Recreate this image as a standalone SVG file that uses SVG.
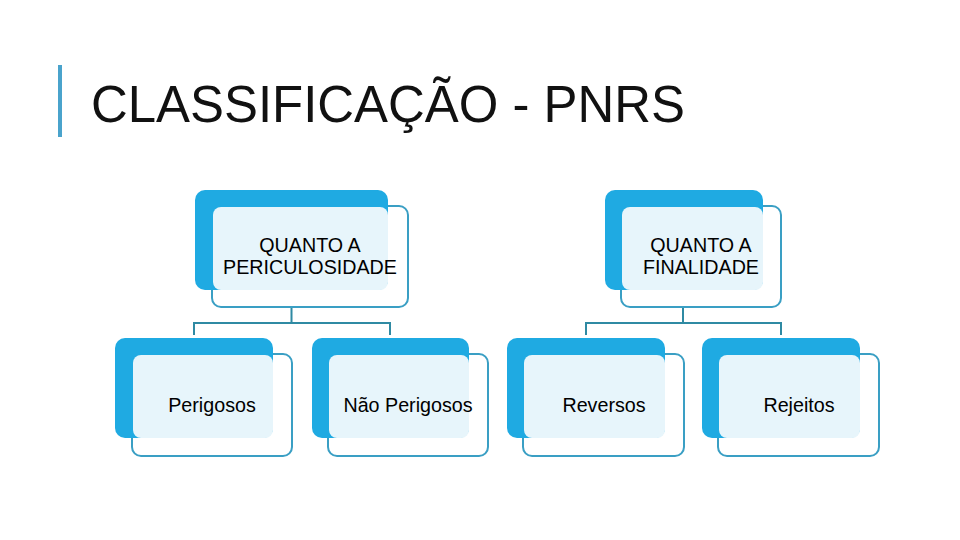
<svg xmlns="http://www.w3.org/2000/svg" width="960" height="540" viewBox="0 0 960 540">
<style>
.back{fill:#1faae2}
.light{fill:#e7f5fb}
.frame{fill:#ffffff;stroke:#3a9fc4;stroke-width:2}
.lbl{font-family:"Liberation Sans",Arial,sans-serif;font-size:19.7px;fill:#000;text-anchor:middle}
.conn{fill:none;stroke:#2f8aa3;stroke-width:2}
</style>
<rect x="0" y="0" width="960" height="540" fill="#ffffff"/>
<rect x="58" y="65" width="4" height="72" fill="#4aa3cc"/>
<text x="91" y="122" font-family="'Liberation Sans',Arial,sans-serif" font-size="51.5" textLength="594" lengthAdjust="spacingAndGlyphs" fill="#111">CLASSIFICAÇÃO - PNRS</text>
<g id="connectors">
<path class="conn" d="M291.5 307 V323 M194 335 V323 H390 V335"/>
<path class="conn" d="M683 307 V323 M586 335 V323 H781 V335"/>
</g>
<g id="n1">
<rect class="frame" x="212" y="206" width="196" height="101" rx="9"/>
<rect class="back" x="195" y="190" width="193" height="100" rx="10"/>
<rect class="light" x="213" y="207" width="175" height="83" rx="8"/>
<text class="lbl" x="310" y="252">QUANTO A</text>
<text class="lbl" x="310" y="274">PERICULOSIDADE</text>
</g>
<g id="n2">
<rect class="frame" x="621" y="206" width="160" height="101" rx="9"/>
<rect class="back" x="605" y="190" width="158" height="100" rx="10"/>
<rect class="light" x="622" y="207" width="141" height="83" rx="8"/>
<text class="lbl" x="701" y="252">QUANTO A</text>
<text class="lbl" x="701" y="274">FINALIDADE</text>
</g>
<g id="n3">
<rect class="frame" x="132" y="354" width="160" height="102" rx="9"/>
<rect class="back" x="115" y="338" width="158" height="100" rx="10"/>
<rect class="light" x="133" y="355" width="140" height="83" rx="8"/>
<text class="lbl" x="212" y="412">Perigosos</text>
</g>
<g id="n4">
<rect class="frame" x="328" y="354" width="160" height="102" rx="9"/>
<rect class="back" x="312" y="338" width="157" height="100" rx="10"/>
<rect class="light" x="329" y="355" width="140" height="83" rx="8"/>
<text class="lbl" x="408" y="412">Não Perigosos</text>
</g>
<g id="n5">
<rect class="frame" x="523" y="354" width="161" height="102" rx="9"/>
<rect class="back" x="507" y="338" width="158" height="100" rx="10"/>
<rect class="light" x="524" y="355" width="141" height="83" rx="8"/>
<text class="lbl" x="604" y="412">Reversos</text>
</g>
<g id="n6">
<rect class="frame" x="718" y="354" width="161" height="102" rx="9"/>
<rect class="back" x="702" y="338" width="158" height="100" rx="10"/>
<rect class="light" x="719" y="355" width="141" height="83" rx="8"/>
<text class="lbl" x="799" y="412">Rejeitos</text>
</g>
</svg>
